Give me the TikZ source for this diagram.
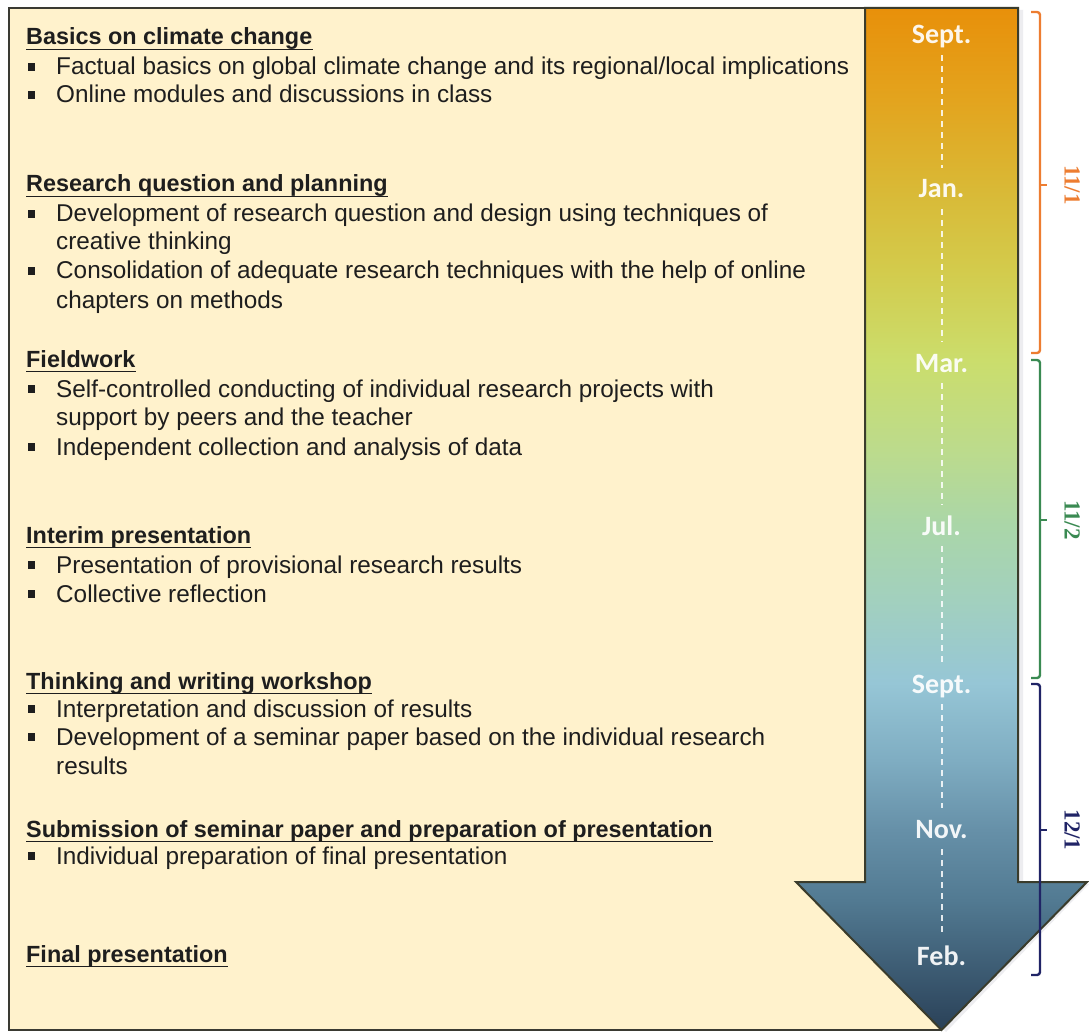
\documentclass[tikz,border=0pt]{standalone}
\usepackage{fontspec}
\setmainfont{Liberation Sans}
\newfontfamily\monthfont{Carlito}
\newfontfamily\semfont{Liberation Serif}
\usetikzlibrary{calc}
\definecolor{beige}{HTML}{FFF2CC}
\definecolor{boxline}{HTML}{3A3A32}
\definecolor{tcol}{HTML}{1E1E1E}
\definecolor{arrline}{HTML}{3A3C2C}
\definecolor{c111}{HTML}{ED7D31}
\definecolor{c112}{HTML}{3A8A52}
\definecolor{c121}{HTML}{202466}
\definecolor{g0}{HTML}{E8900A}
\definecolor{g1}{HTML}{E3A41E}
\definecolor{g2}{HTML}{D9B936}
\definecolor{g3}{HTML}{D3CB4C}
\definecolor{g4}{HTML}{CBDD6C}
\definecolor{g5}{HTML}{BCDB8C}
\definecolor{g6}{HTML}{AAD6A8}
\definecolor{g7}{HTML}{A2D0BE}
\definecolor{g8}{HTML}{96C6D6}
\definecolor{g9}{HTML}{7FADC2}
\definecolor{g10}{HTML}{6690A8}
\definecolor{g11}{HTML}{527A92}
\definecolor{g12}{HTML}{2A4158}
\pgfdeclareverticalshading{arrowshade}{100bp}{color(0bp)=(g12); color(25bp)=(g12); color(31.36bp)=(g11); color(34.78bp)=(g10); color(38.21bp)=(g9); color(41.98bp)=(g8); color(46.04bp)=(g7); color(49.71bp)=(g6); color(53.38bp)=(g5); color(57.78bp)=(g4); color(62.18bp)=(g3); color(66.10bp)=(g2); color(70.50bp)=(g1); color(75bp)=(g0); color(100bp)=(g0)}
\newcommand\bsq[1]{\fill[tcol] ($(#1.base west)+(-28,-12)$) rectangle ++(7,8);}
\newcommand\hul[1]{\draw[tcol,line width=1.6pt] ($(#1.base west)+(0,4.5)$) -- ($(#1.base east)+(0,4.5)$);}
\begin{document}
\begin{tikzpicture}[x=1pt,y=-1pt,
  txt/.style={anchor=base west, inner sep=0pt, font=\fontsize{24.3}{28}\selectfont, text=tcol},
  head/.style={anchor=base west, inner sep=0pt, font=\fontsize{23.4}{28}\selectfont\bfseries, text=tcol},
  month/.style={anchor=base, inner xsep=2pt, inner ysep=11pt, text height=19pt, text depth=0pt,
    font=\monthfont\bfseries\fontsize{28}{30}\selectfont, text=white, text opacity=0.92},
  dashln/.style={draw=white, opacity=0.85, line width=2pt, dash pattern=on 6pt off 5pt},
  sem/.style={rotate=-90, inner sep=0pt, font=\semfont\bfseries\fontsize{23}{26}\selectfont},
  brk/.style={line width=2.4pt, rounded corners=3pt}]
\useasboundingbox (0,0) rectangle (1089,1032);
\fill[white] (0,0) rectangle (1089,1032);
% beige panel
\draw[fill=beige, draw=boxline, line width=2pt] (9,8) rectangle (941,1030);
% arrow shadow
\fill[blue!20!black!20, opacity=0.35] (870,10) -- (1023,10) -- (1023,884) -- (1089,884) -- (946,1032) -- (800,884) -- (870,884) -- cycle;
% arrow
\draw[shade, shading=arrowshade, draw=arrline, line width=2pt, line join=miter]
  (865,8) -- (1018,8) -- (1018,882) -- (1087,882) -- (941.5,1030) -- (796,882) -- (865,882) -- cycle;
% months
\node[month] (m1) at (941.5,44) {Sept.};
\node[month] (m2) at (941.5,198) {Jan.};
\node[month] (m3) at (941.5,372) {Mar.};
\node[month] (m4) at (941.5,535) {Jul.};
\node[month] (m5) at (941.5,693) {Sept.};
\node[month] (m6) at (941.5,838) {Nov.};
\node[month] (m7) at (941.5,965) {Feb.};
\draw[dashln] (m1.south) -- (m2.north);
\draw[dashln] (m2.south) -- (m3.north);
\draw[dashln] (m3.south) -- (m4.north);
\draw[dashln] (m4.south) -- (m5.north);
\draw[dashln] (m5.south) -- (m6.north);
\draw[dashln] (m6.south) -- (m7.north);
% brackets
\draw[brk, c111] (1031,12) -- (1040,12) -- (1040,353) -- (1031,353);
\draw[c111, line width=2.4pt] (1040,185) -- (1047,185);
\node[sem, text=c111] (s1) at (1072,185) {11/1};
\draw[brk, c112] (1031,360) -- (1040,360) -- (1040,678) -- (1031,678);
\draw[c112, line width=2.4pt] (1040,520) -- (1047,520);
\node[sem, text=c112] (s2) at (1072,520) {11/2};
\draw[brk, c121] (1031,684) -- (1040,684) -- (1040,975) -- (1031,975);
\draw[c121, line width=2.4pt] (1040,830) -- (1047,830);
\node[sem, text=c121] (s3) at (1072,830) {12/1};
% text
\node[head] (h1) at (26,45) {Basics on climate change}; \hul{h1}
\node[txt] (b11) at (56,75) {Factual basics on global climate change and its regional/local implications}; \bsq{b11}
\node[txt] (b12) at (56,103) {Online modules and discussions in class}; \bsq{b12}

\node[head] (h2) at (26,192) {Research question and planning}; \hul{h2}
\node[txt] (b21) at (56,222) {Development of research question and design using techniques of}; \bsq{b21}
\node[txt] (c21) at (56,250) {creative thinking};
\node[txt] (b22) at (56,279) {Consolidation of adequate research techniques with the help of online}; \bsq{b22}
\node[txt] (c22) at (56,308) {chapters on methods};

\node[head] (h3) at (26,367) {Fieldwork}; \hul{h3}
\node[txt] (b31) at (56,397) {Self-controlled conducting of individual research projects with}; \bsq{b31}
\node[txt] (c31) at (56,425) {support by peers and the teacher};
\node[txt] (b32) at (56,455) {Independent collection and analysis of data}; \bsq{b32}

\node[head] (h4) at (26,543) {Interim presentation}; \hul{h4}
\node[txt] (b41) at (56,573) {Presentation of provisional research results}; \bsq{b41}
\node[txt] (b42) at (56,602) {Collective reflection}; \bsq{b42}

\node[head] (h5) at (26,689) {Thinking and writing workshop}; \hul{h5}
\node[txt] (b51) at (56,717) {Interpretation and discussion of results}; \bsq{b51}
\node[txt] (b52) at (56,745) {Development of a seminar paper based on the individual research}; \bsq{b52}
\node[txt] (c52) at (56,774) {results};

\node[head] (h6) at (26,837) {Submission of seminar paper and preparation of presentation}; \hul{h6}
\node[txt] (b61) at (56,864) {Individual preparation of final presentation}; \bsq{b61}

\node[head] (h7) at (26,962) {Final presentation}; \hul{h7}
\end{tikzpicture}
\end{document}
